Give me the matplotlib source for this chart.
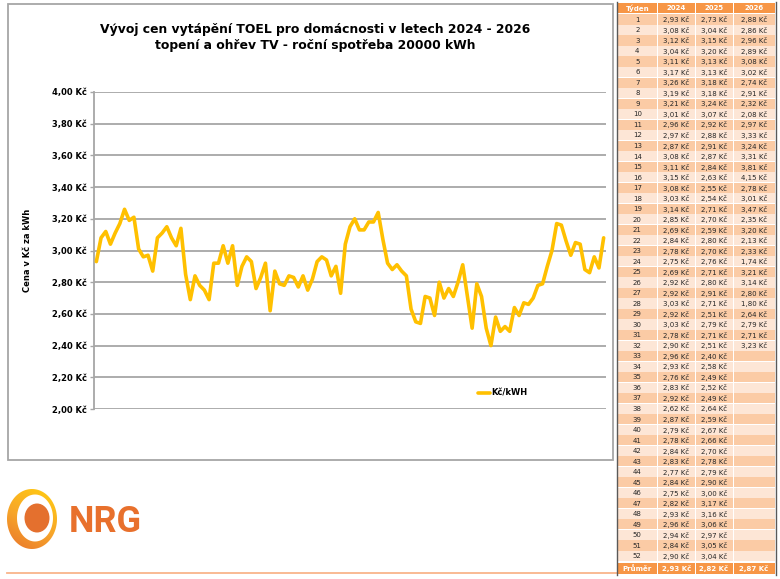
import matplotlib
matplotlib.use("Agg")
import matplotlib.pyplot as plt
import numpy as np
from matplotlib.patches import Rectangle, Ellipse, PathPatch
from matplotlib.path import Path
from matplotlib.lines import Line2D
from matplotlib.colors import LinearSegmentedColormap
from matplotlib import font_manager

# ---------------- data ----------------
weeks = list(range(1, 53))
years = ["2024", "2025", "2026"]
y2024 = [2.93, 3.08, 3.12, 3.04, 3.11, 3.17, 3.26, 3.19, 3.21, 3.01, 2.96, 2.97, 2.87,
         3.08, 3.11, 3.15, 3.08, 3.03, 3.14, 2.85, 2.69, 2.84, 2.78, 2.75, 2.69, 2.92,
         2.92, 3.03, 2.92, 3.03, 2.78, 2.90, 2.96, 2.93, 2.76, 2.83, 2.92, 2.62, 2.87,
         2.79, 2.78, 2.84, 2.83, 2.77, 2.84, 2.75, 2.82, 2.93, 2.96, 2.94, 2.84, 2.90]
y2025 = [2.73, 3.04, 3.15, 3.20, 3.13, 3.13, 3.18, 3.18, 3.24, 3.07, 2.92, 2.88, 2.91,
         2.87, 2.84, 2.63, 2.55, 2.54, 2.71, 2.70, 2.59, 2.80, 2.70, 2.76, 2.71, 2.80,
         2.91, 2.71, 2.51, 2.79, 2.71, 2.51, 2.40, 2.58, 2.49, 2.52, 2.49, 2.64, 2.59,
         2.67, 2.66, 2.70, 2.78, 2.79, 2.90, 3.00, 3.17, 3.16, 3.06, 2.97, 3.05, 3.04]
y2026 = [2.88, 2.86, 2.96, 2.89, 3.08, 3.02, 2.74, 2.91, 2.32, 2.08, 2.97, 3.33, 3.24,
         3.31, 3.81, 4.15, 2.78, 3.01, 3.47, 2.35, 3.20, 2.13, 2.33, 1.74, 3.21, 3.14,
         2.80, 1.80, 2.64, 2.79, 2.71, 3.23]
weeks_2026_in_chart = 5
averages = [2.93, 2.82, 2.87]
yticks = [2.0, 2.2, 2.4, 2.6, 2.8, 3.0, 3.2, 3.4, 3.6, 3.8, 4.0]

title = "Vývoj cen vytápění TOEL pro domácnosti v letech 2024 - 2026\ntopení a ohřev TV - roční spotřeba 20000 kWh"
ylabel = "Cena v Kč za kWh"
legend_label = "Kč/kWH"
logo_text = "NRG"

series = y2024 + y2025 + y2026[:weeks_2026_in_chart]

def kc(v):
    return f"{v:.2f}".replace(".", ",") + " Kč"

W, H = 780, 579
fig = plt.figure(figsize=(W / 100, H / 100), dpi=100)

# overlay axes in pixel coordinates
ov = fig.add_axes([0, 0, 1, 1])
ov.set_xlim(0, W)
ov.set_ylim(H, 0)
ov.axis("off")

# chart border
ov.add_patch(Rectangle((7.5, 3.5), 605.5, 456.5, fill=False, ec="#A6A6A6", lw=1.3))

# orange bottom line
ov.add_line(Line2D([7, 617], [573, 573], color="#F9B48A", lw=1.3))

# ---------------- logo ----------------
def ell_path(cx, cy, w, h, reverse=False):
    t = np.linspace(0, 2 * np.pi, 100)
    if reverse:
        t = t[::-1]
    v = np.column_stack([cx + w / 2 * np.cos(t), cy + h / 2 * np.sin(t)])
    codes = [Path.MOVETO] + [Path.LINETO] * (len(v) - 2) + [Path.CLOSEPOLY]
    return v, codes

v1, c1 = ell_path(32, 519, 50, 60)
v2, c2 = ell_path(35, 518, 36, 47, reverse=True)
ring = Path(np.vstack([v1, v2]), c1 + c2)
ring_patch = PathPatch(ring, fc="none", ec="none")
ov.add_patch(ring_patch)
gx, gy = np.meshgrid(np.linspace(0, 1, 60), np.linspace(0, 1, 60))
grad = np.clip(0.75 * gy + 0.35 * (1 - gx) - 0.1, 0, 1)
cmap = LinearSegmentedColormap.from_list("g", ["#FFC814", "#F7A52A", "#E8742C"])
im = ov.imshow(grad, cmap=cmap, extent=(6, 58, 550, 488), aspect="auto", zorder=2,
               origin="upper")
im.set_clip_path(ring_patch)
ov.add_patch(Ellipse((37, 518), 25, 29, fc="#E4702E", ec="none", zorder=3))
ov.set_xlim(0, W)
ov.set_ylim(H, 0)

names = {f.name for f in font_manager.fontManager.ttflist}
logo_family = "Roboto" if "Roboto" in names else "DejaVu Sans"
ov.text(69, 532, logo_text, fontsize=26, fontweight="bold", color="#E8702C",
        family=logo_family, ha="left", va="baseline")

# ---------------- title & y label ----------------
ov.text(315, 38, title, ha="center", va="center", fontsize=8.9, fontweight="bold",
        color="#000000", linespacing=1.3)
ov.text(28, 250, ylabel, ha="center", va="center", rotation=90, fontsize=6,
        fontweight="bold")

# ---------------- chart ----------------
L, R, T, B = 94, 606, 92, 409
ax = fig.add_axes([L / W, 1 - B / H, (R - L) / W, (B - T) / H])
ax.patch.set_alpha(0)
x = np.arange(len(series))
ax.plot(x, series, color="#FFC000", lw=2.6, solid_joinstyle="round",
        solid_capstyle="round", label=legend_label, zorder=3)
ax.set_xlim(-0.5, len(series) - 0.5)
ax.set_ylim(2.0, 4.0)
ax.set_yticks(yticks)
ax.set_yticklabels([kc(v) for v in yticks], fontsize=6, fontweight="bold")
ax.set_xticks([])
ax.grid(axis="y", color="#A6A6A6", lw=1.3)
for s in ["top", "right", "bottom"]:
    ax.spines[s].set_visible(False)
ax.spines["left"].set_color("#A6A6A6")
ax.spines["left"].set_linewidth(1.3)
ax.tick_params(axis="y", length=3, width=1, color="#A6A6A6", pad=2)
ax.set_axisbelow(True)
ax.legend(loc="center left", bbox_to_anchor=((470 - L) / (R - L), (B - 393) / (B - T)),
          frameon=False, handlelength=1.5, handletextpad=0.1,
          prop={"size": 6, "weight": "bold"})

# ---------------- table ----------------
tl, tr = 617, 775
col_edges = [617, 657.5, 695, 733, 775]
hdr_top, hdr_bot = 3, 13
row_top0 = 14
row_h = 10.52
orange = "#F79646"
dark = "#FBCBA5"
light = "#FDE6D6"
txtc = "#262626"

def cell_row(y0, y1, texts, fc, tc, bold):
    for j in range(4):
        x0, x1 = col_edges[j], col_edges[j + 1]
        ov.add_patch(Rectangle((x0 + 0.5, y0), x1 - x0 - 1, y1 - y0, fc=fc, ec="none", zorder=2))
        if texts[j]:
            ov.text((x0 + x1) / 2, (y0 + y1) / 2 + 0.3, texts[j], ha="center", va="center",
                    fontsize=5, color=tc, fontweight="bold" if bold else "normal", zorder=3)

cell_row(hdr_top, hdr_bot, ["Týden"] + years, orange, "white", True)
cols = [y2024, y2025, y2026]
for i, wk in enumerate(weeks):
    y0 = row_top0 + i * row_h
    texts = [str(wk)] + [kc(c[i]) if i < len(c) else "" for c in cols]
    cell_row(y0 + 0.4, y0 + row_h, texts, dark if i % 2 == 0 else light, txtc, False)
last_bot = row_top0 + len(weeks) * row_h
cell_row(last_bot + 2, last_bot + 13, ["Průměr"] + [kc(a) for a in averages], orange, "white", True)

ov.add_line(Line2D([tl, tl], [2, 575], color="#595959", lw=1.0, zorder=4))
ov.add_line(Line2D([tr + 1, tr + 1], [2, 575], color="#595959", lw=1.0, zorder=4))

fig.savefig("out.png", dpi=100)
